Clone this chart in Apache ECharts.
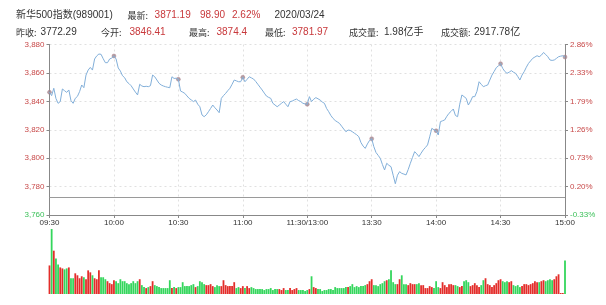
<!DOCTYPE html>
<html><head><meta charset="utf-8">
<script src="https://cdn.jsdelivr.net/npm/echarts@6/dist/echarts.min.js"></script>
<style>html,body{margin:0;padding:0;background:#fff}#c{width:606px;height:305px}</style>
</head><body><div id="c"></div>
<script>
const prevClose = 3772.29;
const indexName = '新华500指数(989001)';
const latestLabel = '最新:';
const latestValues = ['3871.19', '98.90', '2.62%'];
const tradeDate = '2020/03/24';
const statLabels = ['昨收:', '今开:', '最高:', '最低:', '成交量:', '成交额:'];
const statValues = ['3772.29', '3846.41', '3874.4', '3781.97', '1.98亿手', '2917.78亿'];
const statIsRed = [false, true, true, true, false, false];

const xTickLabels = ['09:30','10:00','10:30','11:00','11:30/13:00','13:30','14:00','14:30','15:00'];
const yTickValues = [3760,3780,3800,3820,3840,3860,3880];
const yTickLabels = ['3,760','3,780','3,800','3,820','3,840','3,860','3,880'];
const pctTickLabels = ['-0.33%','0.20%','0.73%','1.26%','1.79%','2.33%','2.86%'];
const markerIdx = [0,30,60,90,120,150,180,210,240];

const price = [
3846.4,3844.0,3849.2,3842.0,3838.6,3839.8,3848.7,3847.5,3846.3,3848.0,
3840.5,3838.6,3842.1,3843.5,3846.8,3851.5,3849.6,3858.5,3862.0,3863.9,
3862.0,3869.8,3872.0,3873.3,3873.1,3870.0,3867.2,3867.2,3869.8,3870.5,
3871.9,3869.8,3863.5,3861.3,3858.0,3856.6,3853.8,3852.5,3851.0,3848.7,
3846.5,3844.5,3852.0,3850.8,3850.3,3850.6,3850.3,3851.0,3858.5,3857.3,
3855.0,3852.7,3851.5,3850.8,3850.3,3849.9,3849.6,3857.3,3856.1,3856.3,
3855.5,3847.3,3846.5,3845.6,3843.8,3842.1,3841.0,3839.8,3840.9,3838.0,
3836.2,3830.4,3829.2,3830.5,3832.7,3835.0,3837.4,3835.5,3833.9,3832.0,
3842.1,3844.0,3845.6,3847.5,3849.2,3852.0,3855.0,3854.4,3853.8,3853.8,
3856.9,3853.8,3855.5,3857.3,3856.5,3855.7,3854.0,3852.0,3850.0,3848.0,
3845.8,3843.7,3842.8,3842.1,3838.6,3837.4,3836.2,3837.4,3838.6,3839.8,
3838.0,3836.2,3839.8,3840.2,3841.0,3841.6,3840.5,3839.8,3838.6,3838.2,
3837.9,3843.3,3839.8,3841.5,3842.6,3841.8,3840.9,3839.5,3838.6,3835.0,
3832.7,3830.0,3828.0,3826.5,3825.5,3824.5,3822.5,3820.5,3818.6,3819.8,
3819.5,3818.6,3817.5,3816.5,3815.1,3811.0,3808.5,3806.9,3810.0,3812.5,
3813.7,3808.1,3804.0,3802.0,3799.9,3795.5,3791.7,3796.4,3795.0,3794.0,
3788.0,3782.0,3788.0,3790.5,3789.3,3788.8,3788.2,3792.0,3796.4,3800.5,
3804.6,3803.0,3801.1,3803.5,3805.8,3807.5,3809.3,3815.0,3821.0,3820.0,
3819.3,3816.3,3825.7,3826.3,3826.9,3829.5,3831.6,3833.0,3834.6,3830.0,
3829.2,3838.0,3844.5,3843.3,3842.1,3837.4,3840.0,3843.3,3843.3,3847.0,
3853.8,3852.0,3850.3,3851.0,3851.5,3855.0,3858.5,3861.0,3863.7,3865.0,
3866.5,3863.2,3861.0,3859.7,3860.5,3861.6,3860.5,3859.7,3857.5,3855.0,
3858.5,3860.9,3864.0,3866.7,3868.5,3870.3,3871.2,3872.1,3871.4,3872.5,
3874.4,3873.0,3871.4,3869.1,3868.8,3869.1,3870.2,3871.4,3871.8,3872.1,
3871.19
];

const volume = [
29,66,44,36,30,27,26,25,26,27,
16,16,21,19,16,18,17,15,24,22,
19,16,15,24,17,17,15,13,11,10,
14,13,11,15,13,13,11,10,11,13,
11,13,15,9,7,6,7,8,13,9,
8,7,6,6,6,6,14,6,7,6,
7,
7,12,8,8,8,9,10,7,8,13,
12,10,9,9,10,8,7,9,8,8,
14,9,8,8,8,12,6,7,6,8,
6,8,6,7,6,5,5,5,5,4,
5,5,6,4,5,5,5,4,6,4,
4,6,4,5,6,4,4,4,3,4,
5,18,7,6,5,5,3,4,4,5,
5,4,7,6,6,6,6,7,7,8,
10,7,8,7,8,8,9,10,13,15,
9,9,8,10,11,13,14,15,24,12,
10,10,15,19,10,10,9,11,10,10,
10,11,9,9,6,6,8,7,6,13,
7,6,12,9,7,10,10,9,9,8,
7,8,13,14,12,8,9,11,9,7,
9,14,16,10,9,7,9,11,14,15,
13,12,13,12,13,9,8,9,7,8,
10,10,9,10,11,13,12,12,13,14,
13,14,15,14,15,18,20,1,1,34
];

const RED = '#c8383b', DARK = '#333333', UP = '#e32d2a', DOWN = '#34d65c';
const LBL_RED = '#c84a4a', LBL_GREEN = '#3cc15a';
const FONT = '"Liberation Sans","Noto Sans CJK SC",sans-serif';
const valFont = '10px ' + FONT;
const cjkFont = '9px "Noto Sans CJK SC",sans-serif';

function txt(x, y, t, c, f) {
  return { type: 'text', x: x, y: y, silent: true,
    style: { text: t, fill: c, font: f || valFont, verticalAlign: 'middle', align: 'left' } };
}
const graphics = [];
graphics.push(txt(16, 15.5, indexName, DARK));
graphics.push(txt(127.5, 15.5, latestLabel, DARK, cjkFont));
const latestX = [154.6, 200, 232];
latestValues.forEach((v, i) => graphics.push(txt(latestX[i], 15.5, v, RED)));
graphics.push(txt(274.5, 15.5, tradeDate, DARK));
const statLabelX = [16, 101, 189, 265, 349, 441];
const statValueX = [40.6, 129.5, 216.5, 292, 384, 474];
statLabels.forEach((l, i) => {
  graphics.push(txt(statLabelX[i], 32.5, l, DARK, cjkFont));
  graphics.push(txt(statValueX[i], 32.5, statValues[i], statIsRed[i] ? RED : DARK));
});

const lblColor = v => (v > prevClose ? LBL_RED : LBL_GREEN);

const chart = echarts.init(document.getElementById('c'), null, { renderer: 'canvas' });
chart.setOption({
  animation: false,
  backgroundColor: '#fff',
  graphic: graphics,
  grid: [
    { left: 49.5, right: 41, top: 44.5, height: 170.5 },
    { left: 49.5, right: 41, top: 229, height: 65 }
  ],
  xAxis: [
    { type: 'value', gridIndex: 0, min: 0, max: 240, interval: 30,
      axisLine: { show: true, onZero: false, lineStyle: { color: '#888', width: 1 } },
      axisTick: { show: true, length: 3, lineStyle: { color: '#888' } },
      axisLabel: { fontSize: 8, color: '#333', margin: 4, fontFamily: FONT,
        formatter: v => xTickLabels[Math.round(v / 30)] },
      splitLine: { show: true, lineStyle: { color: '#e0e0e0', type: [2, 3] } } },
    { type: 'value', gridIndex: 1, min: 0, max: 240, show: false }
  ],
  yAxis: [
    { type: 'value', gridIndex: 0, min: 3760, max: 3880, interval: 20, position: 'left',
      axisLine: { show: true, onZero: false, lineStyle: { color: '#888', width: 1 } },
      axisTick: { show: true, length: 3, lineStyle: { color: '#888' } },
      axisLabel: { fontSize: 8, margin: 5, fontFamily: FONT, color: lblColor,
        formatter: v => yTickLabels[yTickValues.indexOf(v)] },
      splitLine: { show: true, lineStyle: { color: '#e0e0e0', type: [2, 3] } } },
    { type: 'value', gridIndex: 0, min: 3760, max: 3880, interval: 20, position: 'right',
      axisLine: { show: true, onZero: false, lineStyle: { color: '#888', width: 1 } },
      axisTick: { show: true, length: 3, lineStyle: { color: '#888' } },
      axisLabel: { fontSize: 8, margin: 5, fontFamily: FONT, color: lblColor,
        formatter: v => pctTickLabels[yTickValues.indexOf(v)] },
      splitLine: { show: false } },
    { type: 'value', gridIndex: 1, min: 0, max: 'dataMax', show: false }
  ],
  series: [
    { type: 'line', xAxisIndex: 0, yAxisIndex: 0, symbol: 'none', silent: true,
      data: price.map((v, i) => [i, v]),
      lineStyle: { color: '#82afd9', width: 1 },
      markLine: { silent: true, symbol: 'none', label: { show: false },
        lineStyle: { color: '#9a9a9a', type: 'solid', width: 1 },
        data: [{ yAxis: prevClose }] } },
    { type: 'scatter', xAxisIndex: 0, yAxisIndex: 0, symbolSize: 4, silent: true,
      itemStyle: { color: '#9c8890', borderColor: '#b07a86', borderWidth: 0.5 },
      data: markerIdx.map(i => [i, price[i]]) },
    { type: 'bar', xAxisIndex: 1, yAxisIndex: 2, barWidth: 1.8, clip: false, silent: true,
      data: volume.map((v, i) => ({ value: [i, v],
        itemStyle: { color: price[i] >= (i === 0 ? prevClose : price[i - 1]) ? UP : DOWN } })) }
  ]
});
</script>
</body></html>
